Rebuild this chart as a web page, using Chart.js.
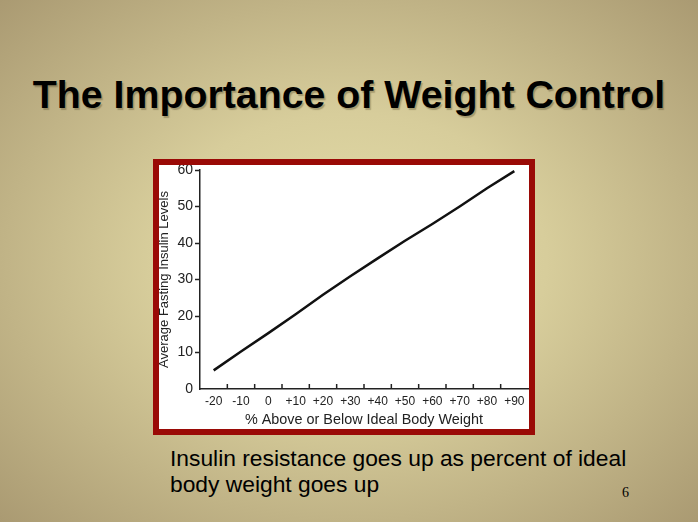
<!DOCTYPE html>
<html>
<head>
<meta charset="utf-8">
<script src="https://cdn.jsdelivr.net/npm/chart.js@4.4.1/dist/chart.umd.min.js"></script>
<style>
html, body { margin: 0; padding: 0; }
body {
    width: 698px; height: 522px; overflow: hidden; position: relative;
    background: radial-gradient(ellipse farthest-corner at 50% 50%, #e5dea9 0%, #d7cd9b 40%, #aa9a72 100%);
    font-family: "Liberation Sans", Arial, sans-serif;
}
h1 {
    position: absolute; left: 0; top: 74px; width: 698px; margin: 0;
    text-align: center; font-size: 39.3px; line-height: 40px; font-weight: bold; color: #000;
    text-shadow: 1.5px 1.5px 1px rgba(60, 50, 20, 0.3);
}
#box {
    position: absolute; left: 153px; top: 159px; width: 370px; height: 264px;
    border: 6px solid #9a0a06; background: #fff;
}
#caption {
    position: absolute; left: 170px; top: 445px; margin: 0;
    font-size: 22.8px; line-height: 26px; color: #000;
}
#page {
    position: absolute; left: 622px; top: 486px;
    font-family: "Liberation Serif", serif; font-size: 14px; line-height: 14px;
}
</style>
</head>
<body>
<h1>The Importance of Weight Control</h1>
<div id="box"><canvas id="chart"></canvas></div>
<p id="caption">Insulin resistance goes up as percent of ideal<br>body weight goes up</p>
<div id="page">6</div>
<script>
// values
const weightPct = [-20, -10, 0, 10, 20, 30, 40, 50, 60, 70, 80, 90];
const insulin = [5.1, 10.3, 15.3, 20.5, 25.8, 30.9, 35.8, 40.6, 45.2, 50.0, 55.0, 59.7];
const xLabels = [-20, -10, 0, 10, 20, 30, 40, 50, 60, 70, 80, 90];
const xTickMarks = [-15, -5, 5, 15, 25, 35, 45, 55, 65, 75, 85];
const yLabels = [0, 10, 20, 30, 40, 50, 60];

// x ticks on the slide point up into the plot
const innerTicks = {
    id: 'innerTicks',
    afterDraw(chart) {
        const x = chart.scales.x;
        const base = chart.chartArea.bottom;
        const c = chart.ctx;
        c.save();
        c.strokeStyle = '#222';
        c.lineWidth = 1.5;
        xTickMarks.forEach(v => {
            const px = x.getPixelForValue(v);
            c.beginPath();
            c.moveTo(px, base);
            c.lineTo(px, base - 5);
            c.stroke();
        });
        c.restore();
    }
};

const ctx = document.getElementById('chart');
new Chart(ctx, {
    type: 'line',
    data: {
        datasets: [{
            data: weightPct.map((w, i) => ({ x: w, y: insulin[i] })),
            borderColor: '#111',
            borderWidth: 2.5,
            pointRadius: 0,
            tension: 0
        }]
    },
    options: {
        responsive: true,
        maintainAspectRatio: false,
        animation: false,
        layout: { padding: { top: 5, right: 1, left: 0, bottom: 0 } },
        plugins: { legend: { display: false }, tooltip: { enabled: false } },
        scales: {
            x: {
                type: 'linear',
                min: -25,
                max: 95,
                afterBuildTicks: s => { s.ticks = xLabels.map(v => ({ value: v })); },
                afterFit: s => { s.height = 40; s.paddingLeft = 0; s.paddingRight = 0; },
                grid: { drawOnChartArea: false, drawTicks: false },
                border: { color: '#222', width: 1.5 },
                ticks: {
                    autoSkip: false, maxRotation: 0, padding: 5,
                    color: '#222', font: { family: 'Liberation Sans', size: 12 },
                    callback: v => v > 0 ? '+' + v : String(v)
                },
                title: {
                    display: true, text: '% Above or Below Ideal Body Weight',
                    color: '#222', font: { family: 'Liberation Sans', size: 14.4 },
                    padding: { top: 0, bottom: 0 }
                }
            },
            y: {
                min: 0,
                max: 60,
                afterBuildTicks: s => { s.ticks = yLabels.map(v => ({ value: v })); },
                afterFit: s => { s.width = 41; s.paddingTop = 0; s.paddingBottom = 0; },
                grid: {
                    drawOnChartArea: false, tickLength: 5,
                    tickColor: c => c.tick && c.tick.value === 0 ? 'transparent' : '#222',
                    tickWidth: 1.5
                },
                border: { color: '#222', width: 1.5 },
                ticks: { padding: 2, color: '#222', font: { family: 'Liberation Sans', size: 14 } },
                title: {
                    display: true, text: 'Average Fasting Insulin Levels',
                    color: '#222', font: { family: 'Liberation Sans', size: 13, lineHeight: 1 },
                    padding: { top: -1.5, bottom: 0 }
                }
            }
        }
    },
    plugins: [innerTicks]
});
</script>
</body>
</html>
